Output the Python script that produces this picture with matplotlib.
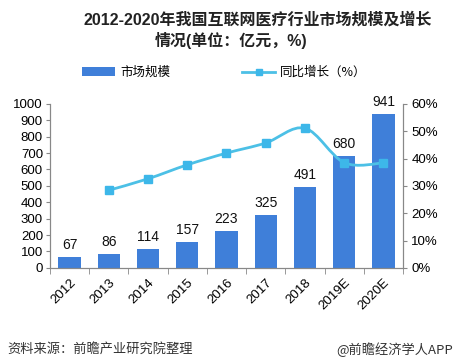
import matplotlib
matplotlib.use("Agg")
import matplotlib.pyplot as plt
from matplotlib.path import Path
from matplotlib.patches import PathPatch
from matplotlib.lines import Line2D
from matplotlib.patches import Patch

plt.rcParams['font.family'] = ['Liberation Sans', 'Noto Sans CJK SC', 'DejaVu Sans']

years = ['2012', '2013', '2014', '2015', '2016', '2017', '2018', '2019E', '2020E']
market = [67, 86, 114, 157, 223, 325, 491, 680, 941]
growth_years_idx = [1, 2, 3, 4, 5, 6, 7, 8]
growth = [28.4, 32.6, 37.7, 42.0, 45.7, 51.1, 38.5, 38.4]
left_ticks = list(range(0, 1001, 100))
right_ticks = [0, 10, 20, 30, 40, 50, 60]

bar_color = '#3F7FD9'
line_color = '#4CC0E6'
marker_color = '#3DB7E9'
axis_color = '#888888'
cjk = ['Noto Sans CJK SC', 'DejaVu Sans']

fig = plt.figure(figsize=(4.58, 3.62), dpi=100)
ax = fig.add_axes([0.109, 0.26, 0.771, 0.453])
ax2 = ax.twinx()

x = list(range(len(years)))
bars = ax.bar(x, market, width=0.57, color=bar_color, zorder=2)
for xi, v in zip(x, market):
    ax.text(xi, v + 30, str(v), ha='center', va='bottom', fontsize=10, color='#111111')

ax.set_xlim(-0.5, len(years) - 0.5)
ax.set_ylim(0, 1000)
ax.set_yticks(left_ticks)
ax.set_xticks(x)
ax.set_xticklabels(years, rotation=45, ha='right', rotation_mode='anchor', fontsize=9.5)
ax.set_xticks([i - 0.5 for i in range(len(years) + 1)], minor=True)
ax.tick_params(axis='x', which='major', length=0, pad=6)
ax.tick_params(axis='x', which='minor', length=4, color=axis_color, direction='out')
ax.tick_params(axis='y', labelsize=9.5, length=3, color=axis_color, pad=2)

ax2.set_ylim(0, 60)
ax2.set_yticks(right_ticks)
ax2.set_yticklabels([f'{t}%' for t in right_ticks])
ax2.tick_params(axis='y', labelsize=9.5, length=3, color=axis_color, pad=3)

for a in (ax, ax2):
    a.spines['top'].set_visible(False)
    for s in ['left', 'right', 'bottom']:
        a.spines[s].set_color(axis_color)
        a.spines[s].set_linewidth(0.8)

# smoothed line (Catmull-Rom as cubic Bezier, data coords)
gx = [x[i] for i in growth_years_idx]
gy = growth
pts = list(zip(gx, gy))
verts = [pts[0]]
codes = [Path.MOVETO]
n = len(pts)
t = 1.0 / 6.0
for i in range(n - 1):
    p0 = pts[i - 1] if i > 0 else pts[i]
    p1 = pts[i]
    p2 = pts[i + 1]
    p3 = pts[i + 2] if i + 2 < n else pts[i + 1]
    c1 = (p1[0] + (p2[0] - p0[0]) * t, p1[1] + (p2[1] - p0[1]) * t)
    c2 = (p2[0] - (p3[0] - p1[0]) * t, p2[1] - (p3[1] - p1[1]) * t)
    verts += [c1, c2, p2]
    codes += [Path.CURVE4] * 3
path = Path(verts, codes)
ax2.add_patch(PathPatch(path, facecolor='none', edgecolor=line_color, lw=2, zorder=3))
ax2.plot(gx, gy, linestyle='none', marker='s', markersize=5.5, color=marker_color, zorder=4)

# title
tfam = ['Liberation Sans', 'Noto Sans CJK SC']
fig.text(0.562, 0.945, '2012-2020年我国互联网医疗行业市场规模及增长', ha='center', va='center',
         fontsize=11.5, fontweight='bold', color='#222222', family=tfam)
fig.text(0.505, 0.887, '情况(单位：亿元，%)', ha='center', va='center',
         fontsize=11.5, fontweight='bold', color='#222222', family=tfam)

# legend
handles = [Patch(facecolor=bar_color, edgecolor='none'),
           Line2D([0], [0], color=line_color, lw=2, marker='s', markersize=4,
                  markerfacecolor=marker_color, markeredgecolor=marker_color)]
fig.legend(handles, ['市场规模', '同比增长（%）'], loc='center', bbox_to_anchor=(0.49, 0.8),
           ncol=2, frameon=False, prop={'family': cjk, 'size': 9},
           columnspacing=5.8, handlelength=2.6, handletextpad=0.4)

# footer
fig.text(0.015, 0.035, '资料来源：前瞻产业研究院整理', ha='left', va='center', fontsize=9.5,
         color='#333333', family=cjk)
fig.text(0.988, 0.035, '@前瞻经济学人APP', ha='right', va='center', fontsize=9.5,
         color='#333333', family=cjk)

fig.savefig('out.png', dpi=100)
